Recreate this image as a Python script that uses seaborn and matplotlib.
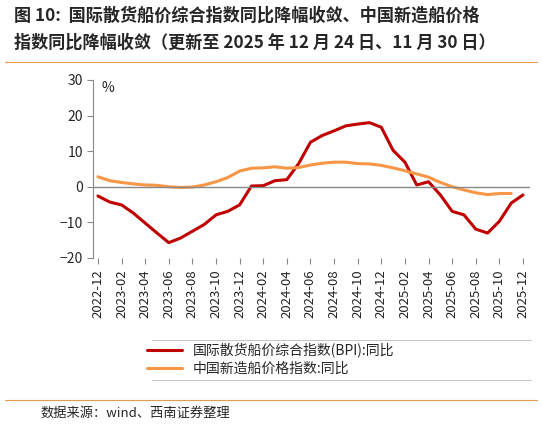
import matplotlib
matplotlib.use("Agg")
import matplotlib.pyplot as plt
import seaborn as sns
import pandas as pd
import numpy as np

sns.set_style("white")
plt.rcParams['font.family'] = ['Noto Sans CJK SC', 'DejaVu Sans']

months = pd.period_range("2022-12", "2025-12", freq="M").strftime("%Y-%m").tolist()
bpi = [-2.6, -4.3, -5.1, -7.4, -10.2, -13.0, -15.7, -14.4, -12.5, -10.6, -7.9, -6.9, -5.1,
       0.2, 0.3, 1.7, 2.0, 6.5, 12.5, 14.4, 15.7, 17.1, 17.6, 18.0, 16.7, 10.2, 6.9, 0.5,
       1.4, -2.3, -6.9, -7.9, -11.9, -13.0, -9.7, -4.6, -2.3]
newbuild = [2.8, 1.7, 1.2, 0.8, 0.5, 0.4, 0.0, -0.2, -0.1, 0.5, 1.4, 2.6, 4.4, 5.2, 5.3,
            5.6, 5.2, 5.4, 6.1, 6.6, 6.9, 6.9, 6.5, 6.4, 6.0, 5.3, 4.5, 3.6, 2.7, 1.2, 0.0,
            -0.9, -1.7, -2.2, -1.9, -1.9]
name1 = "国际散货船价综合指数(BPI):同比"
name2 = "中国新造船价格指数:同比"

df = pd.DataFrame({"x": np.arange(len(months)), "bpi": bpi,
                   "nb": newbuild + [np.nan] * (len(months) - len(newbuild))})

fig = plt.figure(figsize=(5.42, 4.25), dpi=100)
ax = fig.add_axes([0.172, 0.393, 0.806, 0.419])
sns.lineplot(data=df, x="x", y="bpi", ax=ax, color="#C00000", lw=2.2, label=name1, legend=False)
sns.lineplot(data=df, x="x", y="nb", ax=ax, color="#F79646", lw=2.2, label=name2, legend=False)

ax.set_ylim(-20, 30)
ax.set_xlim(-0.4, len(months) - 0.4)
ax.set_yticks([-20, -10, 0, 10, 20, 30])
ax.set_xticks(df["x"][::2])
ax.set_xticklabels(months[::2], rotation=90, fontsize=9.5, color="#222222")
ax.tick_params(axis="x", length=0, pad=8)
ax.tick_params(axis="y", left=True, length=4, color="#888888", labelsize=10)
for s in ["top", "right", "bottom"]:
    ax.spines[s].set_visible(False)
ax.spines["left"].set_color("#888888")
ax.axhline(0, color="#888888", lw=1)
sec = ax.secondary_xaxis(0)
sec.set_xticks(df["x"][::2])
sec.set_xticklabels([])
sec.tick_params(length=4, color="#888888", direction="out")
sec.spines["bottom"].set_visible(False)
ax.set_xlabel(""); ax.set_ylabel("")
ax.text(0.02, 0.93, "%", transform=ax.transAxes, fontsize=10)

fig.text(0.025, 0.952, "图 10:  国际散货船价综合指数同比降幅收敛、中国新造船价格", fontsize=12.3, weight="bold")
fig.text(0.025, 0.888, "指数同比降幅收敛（更新至 2025 年 12 月 24 日、11 月 30 日）", fontsize=12.3, weight="bold")
fig.add_artist(plt.Line2D([0.01, 0.99], [0.855, 0.855], color="#E39B4A", lw=0.8))
fig.add_artist(plt.Line2D([0.01, 0.99], [0.06, 0.06], color="#E39B4A", lw=0.8))

h, l = ax.get_legend_handles_labels()
fig.legend(h, l, loc="center", bbox_to_anchor=(0.5, 0.155), frameon=False, fontsize=10,
           handlelength=2.5, labelspacing=0.3)
fig.add_artist(plt.Line2D([0.28, 0.98], [0.2, 0.2], color="#BBBBBB", lw=0.6))
fig.add_artist(plt.Line2D([0.28, 0.98], [0.105, 0.105], color="#BBBBBB", lw=0.6))
fig.text(0.075, 0.02, "数据来源：wind、西南证券整理", fontsize=9.5, style="italic")
fig.savefig("out.png", dpi=100)
